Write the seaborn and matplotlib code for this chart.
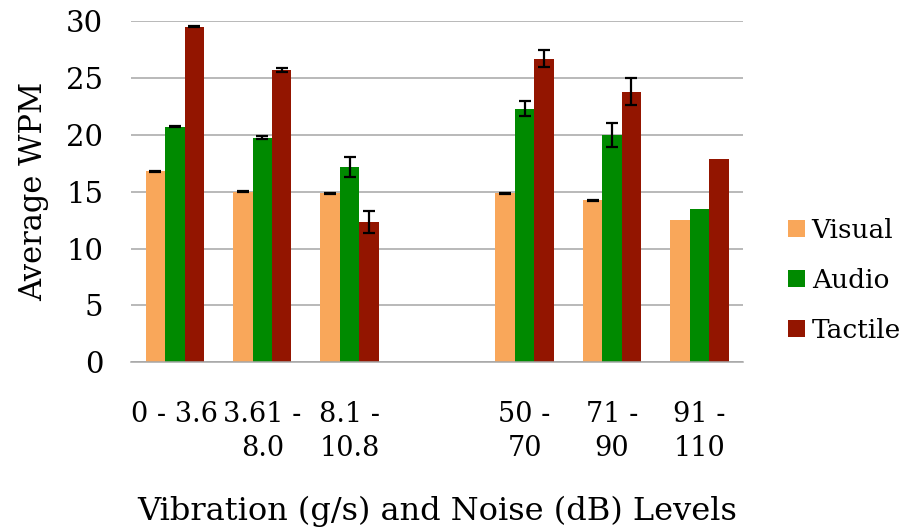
import numpy as np
import pandas as pd
import matplotlib
matplotlib.use("Agg")
import matplotlib.pyplot as plt
import seaborn as sns

# ------------------------------------
# Data
# ------------------------------------
categories = ["0 - 3.6", "3.61 -\n8.0", "8.1 -\n10.8", " ", "50 -\n70", "71 -\n90", "91 -\n110"]
series = ["Visual", "Audio", "Tactile"]

visual = [16.8, 15.0, 14.85, np.nan, 14.85, 14.25, 12.5]
audio = [20.7, 19.75, 17.15, np.nan, 22.3, 20.0, 13.5]
tactile = [29.5, 25.7, 12.35, np.nan, 26.7, 23.8, 17.9]

visual_err = [0.05, 0.05, 0.05, np.nan, 0.05, 0.05, np.nan]
audio_err = [0.05, 0.15, 0.87, np.nan, 0.68, 1.03, np.nan]
tactile_err = [0.05, 0.15, 0.97, np.nan, 0.77, 1.19, np.nan]

colors = ["#F9A75A", "#008A00", "#931500"]

# ------------------------------------
# Build long table
# ------------------------------------
values = {"Visual": visual, "Audio": audio, "Tactile": tactile}
errors = {"Visual": visual_err, "Audio": audio_err, "Tactile": tactile_err}
rows = []
for s in series:
    for c, v in zip(categories, values[s]):
        rows.append({"Level": c, "Mode": s, "WPM": v})
df = pd.DataFrame(rows)

# ------------------------------------
# Plot
# ------------------------------------
sns.set_style("white")
plt.rcParams["font.family"] = ["DejaVu Serif"]
plt.rcParams["text.color"] = "black"
plt.rcParams["xtick.color"] = "black"
plt.rcParams["ytick.color"] = "black"
plt.rcParams["axes.labelcolor"] = "black"

fig = plt.figure(figsize=(9.04, 5.31), dpi=100)
ax = fig.add_axes([0.145, 0.318, 0.677, 0.642])

bar_w = 0.667
sns.barplot(data=df, x="Level", y="WPM", hue="Mode", order=categories,
            hue_order=series, palette=colors, saturation=1, width=bar_w, gap=0,
            errorbar=None, linewidth=0, ax=ax)

# error bars
step = bar_w / len(series)
for j, s in enumerate(series):
    xs = np.arange(len(categories)) + (j - 1) * step
    ax.errorbar(xs, values[s], yerr=errors[s], fmt="none", ecolor="black",
                elinewidth=1.6, capsize=4.5, capthick=1.6, zorder=5)

ax.set_ylim(0, 30)
ax.set_yticks(range(0, 31, 5))
ax.set_xlim(-0.5, len(categories) - 0.5)
ax.yaxis.grid(True, color="#a6a6a6", linewidth=1.1)
ax.set_axisbelow(True)

for sp in ["top", "right", "left"]:
    ax.spines[sp].set_visible(False)
ax.spines["bottom"].set_color("#a6a6a6")
ax.spines["bottom"].set_linewidth(1.1)

# category boundary ticks
ax.set_xticks(np.arange(len(categories) + 1) - 0.5, minor=True)
ax.tick_params(axis="x", which="minor", length=8, color="#a6a6a6", width=1.1)
ax.tick_params(axis="x", which="major", length=0, pad=28, labelsize=19.5)
ax.tick_params(axis="y", length=0, pad=20, labelsize=21)
for lab in ax.get_xticklabels():
    lab.set_multialignment("center")
    lab.set_linespacing(1.35)

ax.set_xlabel("Vibration (g/s) and Noise (dB) Levels", fontsize=23, labelpad=24)
ax.set_ylabel("Average WPM", fontsize=22, labelpad=12)

ax.legend(loc="center left", bbox_to_anchor=(1.0, 0.24), frameon=False,
          fontsize=19, handlelength=0.65, handleheight=0.65, handletextpad=0.25,
          labelspacing=0.95, borderaxespad=1.3)

fig.savefig("out.png", dpi=100)
